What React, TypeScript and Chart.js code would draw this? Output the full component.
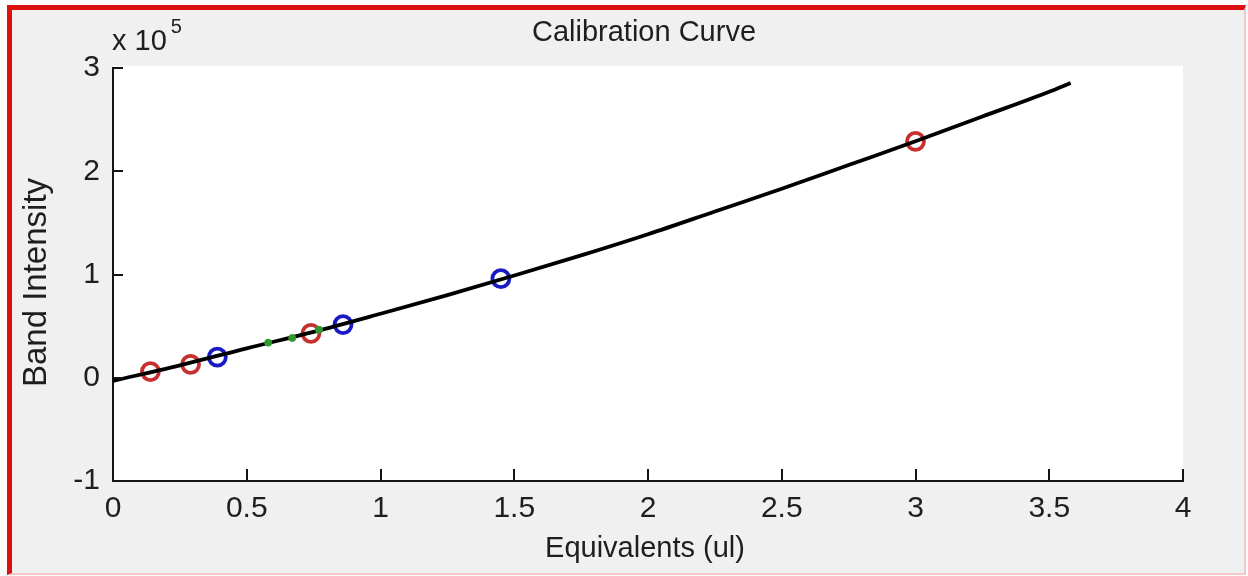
import React, { useEffect, useRef } from 'react';
import { Chart, registerables } from 'chart.js';

Chart.register(...registerables);

// ---- Data ----
const TITLE = 'Calibration Curve';
const X_LABEL = 'Equivalents (ul)';
const Y_LABEL = 'Band Intensity';
const Y_EXPONENT_BASE = 'x 10';
const Y_EXPONENT = '5';
const Y_SCALE = 100000;

const xMin = 0;
const xMax = 4;
const xStep = 0.5;
const yMin = -100000;
const yMax = 300000;
const yStep = 100000;

// Red circles (standards)
const redX = [0.14, 0.29, 0.74, 3.0];
const redY = [6000, 13000, 43000, 229000];
// Blue circles
const blueX = [0.39, 0.86, 1.45];
const blueY = [20000, 51500, 96000];
// Small green points
const greenX = [0.58, 0.67, 0.77];
const greenY = [34000, 38500, 46500];
// Black fitted calibration curve
const fitX = [0, 0.25, 0.5, 0.75, 1.0, 1.25, 1.5, 1.75, 2.0, 2.25, 2.5, 2.75, 3.0, 3.25, 3.5, 3.58];
const fitY = [-3000, 12000, 28500, 44500, 62000, 80000, 99000, 118500, 139000, 161000, 183000, 206000, 229000, 253000, 277000, 285500];

const FONT = "'Liberation Sans', Arial, Helvetica, sans-serif";
const TEXT_COLOR = '#1e1e1e';
const AXIS_COLOR = '#141414';

const pairs = (xs: number[], ys: number[]) => xs.map((x, i) => ({ x, y: ys[i] }));

const decorPlugin = {
  id: 'matlabDecor',
  beforeDraw(chart: any) {
    const { ctx, chartArea: a } = chart;
    ctx.save();
    ctx.fillStyle = '#ffffff';
    ctx.fillRect(a.left, a.top - 2, a.right - a.left, a.bottom - a.top + 2);
    ctx.restore();
  },
  afterDraw(chart: any) {
    const { ctx, chartArea: a, scales } = chart;
    const xs = scales.x;
    const ys = scales.y;
    ctx.save();
    // inward tick marks
    ctx.strokeStyle = AXIS_COLOR;
    ctx.lineWidth = 2;
    ctx.beginPath();
    xs.ticks.forEach((t: any) => {
      const px = Math.round(xs.getPixelForValue(t.value));
      ctx.moveTo(px, a.bottom);
      ctx.lineTo(px, a.bottom - 12);
    });
    ys.ticks.forEach((t: any) => {
      const py = Math.round(ys.getPixelForValue(t.value));
      ctx.moveTo(a.left, py);
      ctx.lineTo(a.left + 10, py);
    });
    ctx.stroke();

    // texts
    const cx = (a.left + a.right) / 2;
    ctx.fillStyle = TEXT_COLOR;
    ctx.textAlign = 'center';
    ctx.textBaseline = 'middle';
    ctx.font = `29px ${FONT}`;
    ctx.fillText(TITLE, cx - 4, 33);
    ctx.fillText(X_LABEL, cx - 3, 549);

    ctx.save();
    ctx.translate(37, (a.top + a.bottom) / 2 + 8);
    ctx.rotate(-Math.PI / 2);
    ctx.font = `33px ${FONT}`;
    ctx.fillText(Y_LABEL, 0, 0);
    ctx.restore();

    ctx.textAlign = 'left';
    ctx.font = `29px ${FONT}`;
    ctx.fillText(Y_EXPONENT_BASE, a.left - 1, 42);
    const w = ctx.measureText(Y_EXPONENT_BASE).width;
    ctx.font = `20px ${FONT}`;
    ctx.fillText(Y_EXPONENT, a.left - 1 + w + 4, 27);
    ctx.restore();
  },
};

export default function App() {
  const ref = useRef<HTMLCanvasElement | null>(null);

  useEffect(() => {
    const canvas = ref.current;
    if (!canvas) return;
    const tickFont = { family: FONT, size: 30 };
    const chart = new Chart(canvas, {
      type: 'scatter',
      data: {
        datasets: [
          {
            type: 'line',
            label: 'Fit',
            data: pairs(fitX, fitY),
            borderColor: '#000000',
            borderWidth: 3.8,
            pointRadius: 0,
            fill: false,
            cubicInterpolationMode: 'monotone',
            order: 1,
          } as any,
          {
            label: 'Red',
            data: pairs(redX, redY),
            pointStyle: 'circle',
            pointRadius: 8.5,
            pointBorderWidth: 3.8,
            borderColor: '#c83030',
            pointBorderColor: '#c83030',
            backgroundColor: 'rgba(0,0,0,0)',
            pointBackgroundColor: 'rgba(0,0,0,0)',
            order: 2,
          },
          {
            label: 'Blue',
            data: pairs(blueX, blueY),
            pointStyle: 'circle',
            pointRadius: 8.5,
            pointBorderWidth: 3.8,
            borderColor: '#1a1ac4',
            pointBorderColor: '#1a1ac4',
            backgroundColor: 'rgba(0,0,0,0)',
            pointBackgroundColor: 'rgba(0,0,0,0)',
            order: 2,
          },
          {
            label: 'Green',
            data: pairs(greenX, greenY),
            pointStyle: 'circle',
            pointRadius: 3.5,
            pointBorderWidth: 1,
            borderColor: '#2e9a2e',
            pointBorderColor: '#2e9a2e',
            backgroundColor: '#2e9a2e',
            pointBackgroundColor: '#2e9a2e',
            order: 0,
          },
        ],
      },
      options: {
        animation: false,
        responsive: false,
        maintainAspectRatio: false,
        layout: { padding: { left: 0, right: 65, top: 68, bottom: 0 } },
        plugins: {
          legend: { display: false },
          tooltip: { enabled: false },
          title: { display: false },
        },
        scales: {
          x: {
            type: 'linear',
            min: xMin,
            max: xMax,
            ticks: {
              stepSize: xStep,
              font: tickFont,
              color: TEXT_COLOR,
              padding: 10,
              maxRotation: 0,
              autoSkip: false,
              callback: (v: any) => String(v),
            },
            grid: { display: true, drawOnChartArea: false, drawTicks: false },
            border: { display: true, color: AXIS_COLOR, width: 2 },
            afterFit: (s: any) => {
              s.height = 95;
            },
          },
          y: {
            type: 'linear',
            min: yMin,
            max: yMax,
            ticks: {
              stepSize: yStep,
              font: tickFont,
              color: TEXT_COLOR,
              padding: 13,
              autoSkip: false,
              callback: (v: any) => String(Number(v) / Y_SCALE),
            },
            grid: { display: true, drawOnChartArea: false, drawTicks: false },
            border: { display: true, color: AXIS_COLOR, width: 2 },
            afterFit: (s: any) => {
              s.width = 113;
            },
          },
        },
      } as any,
      plugins: [decorPlugin],
    });
    return () => chart.destroy();
  }, []);

  return (
    <div
      style={{
        position: 'fixed',
        left: 0,
        top: 0,
        width: 1248,
        height: 576,
        background: '#fcfcfc',
        overflow: 'hidden',
      }}
    >
      <div
        style={{
          position: 'absolute',
          left: 7,
          top: 5,
          width: 1248 - 7 - 2,
          height: 576 - 5 - 1,
          boxSizing: 'border-box',
          background: '#f0f0f0',
          borderLeft: '5px solid #dd1010',
          borderTop: '5px solid #dd1010',
          borderRight: '2px solid #f4c8c8',
          borderBottom: '2px solid #f4c8c8',
        }}
      />
      <canvas
        ref={ref}
        width={1248}
        height={576}
        style={{ position: 'absolute', left: 0, top: 0, width: 1248, height: 576, display: 'block' }}
      />
    </div>
  );
}
